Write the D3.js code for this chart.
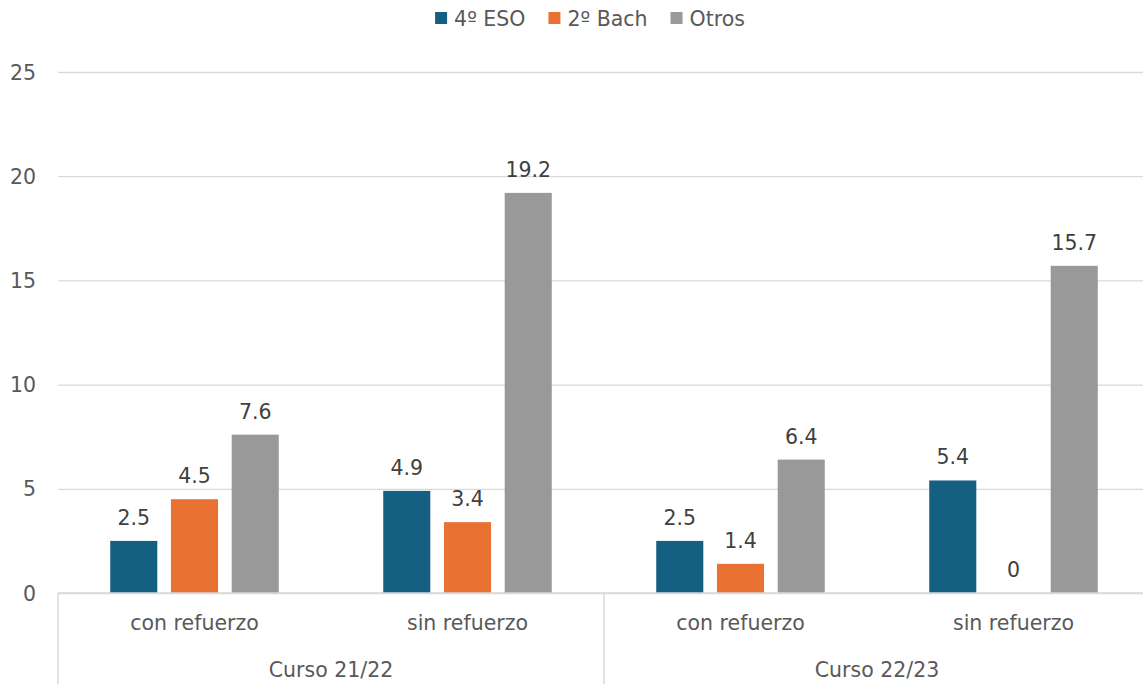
<!DOCTYPE html>
<html>
<head>
<meta charset="utf-8">
<script src="https://cdn.jsdelivr.net/npm/d3@7"></script>
<style>
  html, body { margin: 0; padding: 0; background: #fff; }
  svg text { font-family: "DejaVu Sans", "Liberation Sans", Arial, sans-serif; fill: #595959; }
</style>
</head>
<body>
<svg id="chart" width="1143" height="684"></svg>
<script>
// Grouped bars: course year -> reinforcement -> level
const courses = ["Curso 21/22", "Curso 22/23"];
const subgroups = ["con refuerzo", "sin refuerzo"];
const seriesNames = ["4º ESO", "2º Bach", "Otros"];
const seriesColors = ["#156082", "#E97132", "#999999"];
const eso4 = [2.5, 4.9, 2.5, 5.4];
const bach2 = [4.5, 3.4, 1.4, 0];
const otros = [7.6, 19.2, 6.4, 15.7];
const yTicks = [0, 5, 10, 15, 20, 25];

const seriesValues = [eso4, bach2, otros];
const categories = [];
courses.forEach(c => subgroups.forEach(s => categories.push(c + "|" + s)));

const svg = d3.select("#chart");
// plot area continues slightly past the right edge of the canvas
const plotLeft = 58, plotRight = 1150, plotTop = 72, plotBottom = 593;
const fontSize = 20.5;

const x = d3.scaleBand().domain(categories).range([plotLeft, plotRight]).padding(0);
const y = d3.scaleLinear().domain([0, 25]).range([plotBottom, plotTop]);
const inner = d3.scaleBand().domain(seriesNames)
  .range([0, x.bandwidth()]).paddingInner(0.225).paddingOuter(0.86);

// gridlines and value axis labels
const yAxis = d3.axisLeft(y).tickValues(yTicks).tickSize(-(plotRight - plotLeft)).tickFormat(d3.format("d"));
const gy = svg.append("g").attr("transform", `translate(${plotLeft},0)`).call(yAxis);
gy.select(".domain").remove();
gy.selectAll(".tick line").attr("stroke", "#d9d9d9").attr("stroke-width", 1.3);
gy.selectAll(".tick text").attr("x", -22).attr("font-size", fontSize).attr("text-anchor", "end")
  .attr("dy", "0.35em");

// bars with value labels
seriesNames.forEach((name, si) => {
  const vals = seriesValues[si];
  const g = svg.append("g");
  g.selectAll("rect").data(categories).join("rect")
    .attr("x", c => x(c) + inner(name))
    .attr("width", inner.bandwidth())
    .attr("y", (c, i) => y(vals[i]))
    .attr("height", (c, i) => y(0) - y(vals[i]))
    .attr("fill", seriesColors[si]);
  g.selectAll("text").data(categories).join("text")
    .attr("x", c => x(c) + inner(name) + inner.bandwidth() / 2)
    .attr("y", (c, i) => y(vals[i]) - 16)
    .attr("text-anchor", "middle")
    .attr("font-size", fontSize)
    .style("fill", "#404040")
    .text((c, i) => vals[i]);
});

// category axis: baseline, separators, two-level labels
svg.append("line").attr("x1", plotLeft).attr("x2", plotRight).attr("y1", plotBottom).attr("y2", plotBottom)
  .attr("stroke", "#d9d9d9").attr("stroke-width", 1.5);
const courseX = d3.scaleBand().domain(courses).range([plotLeft, plotRight]);
[plotLeft, courseX(courses[1])].forEach(px => {
  svg.append("line").attr("x1", px).attr("x2", px).attr("y1", plotBottom).attr("y2", 684)
    .attr("stroke", "#d9d9d9").attr("stroke-width", 1.5);
});
svg.append("g").selectAll("text").data(categories).join("text")
  .attr("x", c => x(c) + x.bandwidth() / 2)
  .attr("y", 630)
  .attr("text-anchor", "middle").attr("font-size", fontSize)
  .text(c => c.split("|")[1]);
svg.append("g").selectAll("text").data(courses).join("text")
  .attr("x", c => courseX(c) + courseX.bandwidth() / 2)
  .attr("y", 677)
  .attr("text-anchor", "middle").attr("font-size", fontSize)
  .text(c => c);

// legend, centred above the plot
const legend = svg.append("g");
let cursor = 0;
seriesNames.forEach((name, i) => {
  legend.append("rect").attr("x", cursor).attr("y", 12).attr("width", 12).attr("height", 12)
    .attr("fill", seriesColors[i]);
  const t = legend.append("text").attr("x", cursor + 19).attr("y", 26).attr("font-size", fontSize).text(name);
  cursor += 19 + t.node().getComputedTextLength() + 23;
});
const legendWidth = cursor - 23;
legend.attr("transform", `translate(${590 - legendWidth / 2},0)`);
</script>
</body>
</html>
